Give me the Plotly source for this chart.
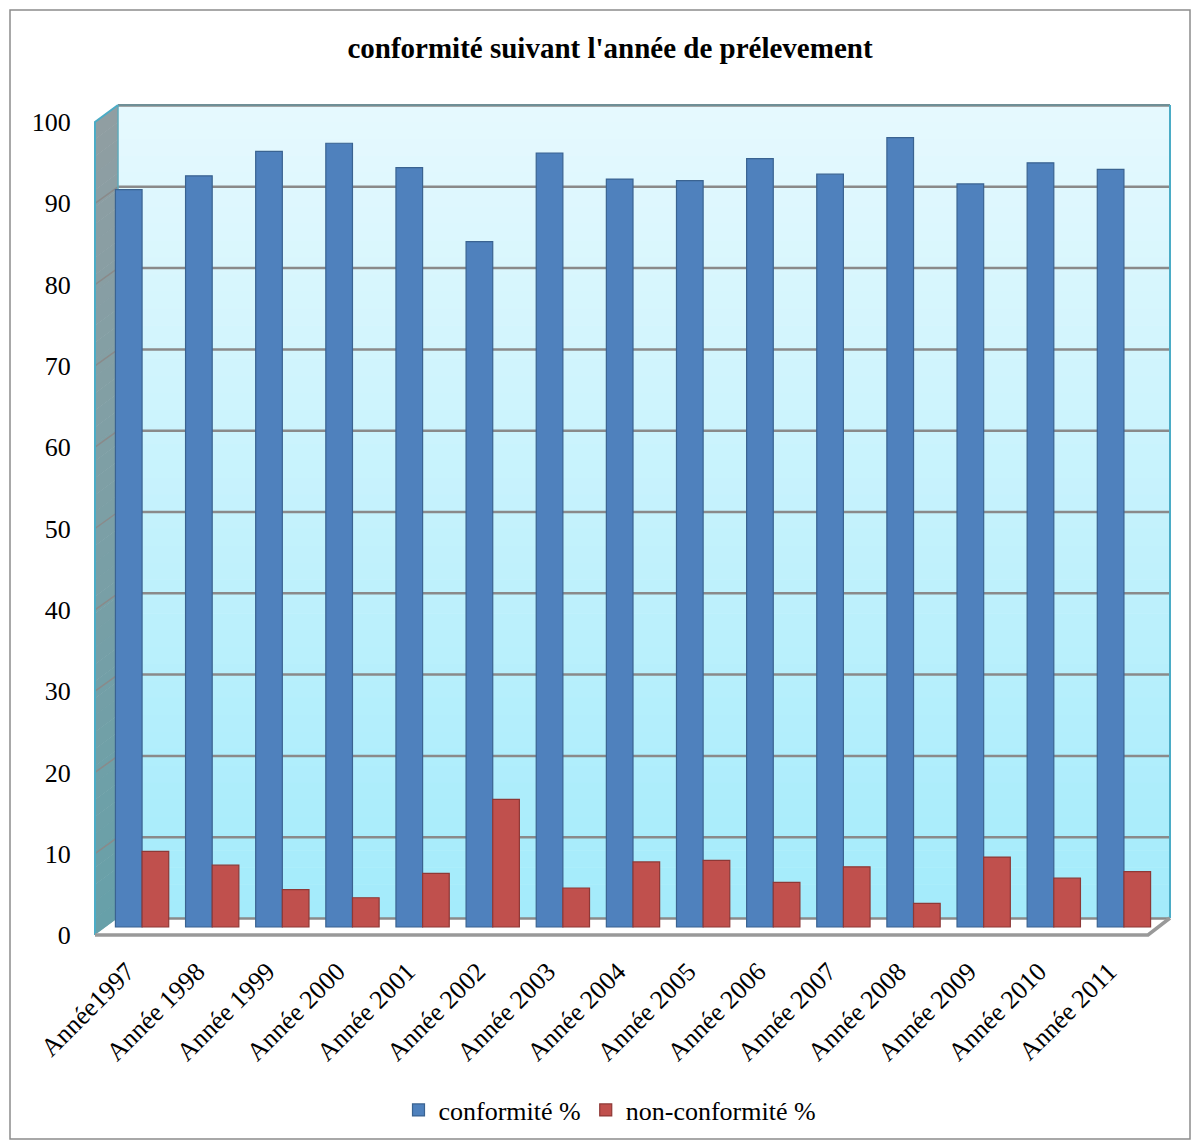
import plotly.graph_objects as go

# ---------------- data ----------------
categories = ["Année1997", "Année 1998", "Année 1999", "Année 2000", "Année 2001",
              "Année 2002", "Année 2003", "Année 2004", "Année 2005", "Année 2006",
              "Année 2007", "Année 2008", "Année 2009", "Année 2010", "Année 2011"]
conformite = [90.7, 92.4, 95.4, 96.4, 93.4, 84.3, 95.2, 92.0, 91.8, 94.5, 92.6, 97.1, 91.4, 94.0, 93.2]
non_conformite = [9.3, 7.6, 4.6, 3.6, 6.6, 15.7, 4.8, 8.0, 8.2, 5.5, 7.4, 2.9, 8.6, 6.0, 6.8]
y_ticks = [0, 10, 20, 30, 40, 50, 60, 70, 80, 90, 100]
title_text = "conformité suivant l'année de prélevement"
series_names = ["conformité %", "non-conformité %"]

# ---------------- geometry helpers ----------------
FW, FH = 1197, 1141
L, R, T, B = 107, 1159, 100, 940
W, H = R - L, B - T
S = 8.13  # px per unit


def px(x):
    return (x - L) / W


def py(y):
    return (B - y) / H


FONT = "Liberation Serif"
BLUE, BLUE_LINE = "#4F81BD", "#3A6391"
RED, RED_LINE = "#C0504D", "#8E3836"

fig = go.Figure()
fig.add_trace(go.Bar(x=categories, y=conformite, name=series_names[0],
                     marker=dict(color=BLUE, line=dict(color=BLUE_LINE, width=1.2))))
fig.add_trace(go.Bar(x=categories, y=non_conformite, name=series_names[1],
                     marker=dict(color=RED, line=dict(color=RED_LINE, width=1.2))))
# carrier for the front (label) axis
fig.add_trace(go.Scatter(x=categories, y=[0] * len(categories), yaxis="y3",
                         mode="lines", line=dict(width=0), showlegend=False,
                         hoverinfo="skip"))

shapes = []


def mix(c1, c2, t):
    a = [int(c1[i:i + 2], 16) for i in (1, 3, 5)]
    b = [int(c2[i:i + 2], 16) for i in (1, 3, 5)]
    return "#%02x%02x%02x" % tuple(round(a[k] + (b[k] - a[k]) * t) for k in range(3))


# outer border
shapes.append(dict(type="rect", xref="paper", yref="paper", x0=px(10), x1=px(1190),
                   y0=py(1139), y1=py(10), line=dict(color="#8c8c8c", width=1.5),
                   fillcolor="rgba(0,0,0,0)", layer="below"))

# back wall gradient
N = 48
top_y, bot_y = 105, 918
for i in range(N):
    y0 = top_y + (bot_y - top_y) * i / N
    y1 = top_y + (bot_y - top_y) * (i + 1) / N + 0.6
    c = mix("#E6F9FE", "#A3EBFB", (i + 0.5) / N)
    shapes.append(dict(type="rect", xref="paper", yref="paper", x0=px(118), x1=px(1170),
                       y0=py(y1), y1=py(y0), line=dict(width=0), fillcolor=c, layer="below"))

# left wall gradient
for i in range(N):
    ya = top_y + (bot_y - top_y) * i / N
    yb = top_y + (bot_y - top_y) * (i + 1) / N + 0.6
    c = mix("#909EA2", "#67A0A9", (i + 0.5) / N)
    path = "M %f,%f L %f,%f L %f,%f L %f,%f Z" % (
        px(95), py(ya + 17), px(118), py(ya), px(118), py(yb), px(95), py(yb + 17))
    shapes.append(dict(type="path", xref="paper", yref="paper", path=path,
                       line=dict(width=0), fillcolor=c, layer="below"))

# floor
floor = "M %f,%f L %f,%f L %f,%f L %f,%f Z" % (px(95), py(935), px(118), py(918),
                                             px(1170), py(918), px(1148), py(935))
shapes.append(dict(type="path", xref="paper", yref="paper", path=floor,
                   line=dict(width=0), fillcolor="#FFFFFF", layer="below"))

# gridlines (back wall + diagonal on left wall)
for v in y_ticks:
    shapes.append(dict(type="line", xref="paper", yref="y2", x0=px(118), x1=px(1170),
                       y0=v, y1=v, line=dict(color="#8A8A8A", width=2.5), layer="below"))
    if 0 < v < 100:
        shapes.append(dict(type="line", xref="paper", yref="y2", x0=px(95), x1=px(118),
                           y0=v - 16.5 / S, y1=v, line=dict(color="#8A8A8A", width=1.5),
                           layer="below"))

# wall edges
shapes.append(dict(type="line", xref="paper", yref="paper", x0=px(118), x1=px(1170),
                   y0=py(105), y1=py(105), line=dict(color="#6F8F96", width=2), layer="below"))
shapes.append(dict(type="line", xref="paper", yref="paper", x0=px(1170), x1=px(1170),
                   y0=py(105), y1=py(918), line=dict(color="#4BACC6", width=2), layer="below"))
shapes.append(dict(type="line", xref="paper", yref="paper", x0=px(118), x1=px(118),
                   y0=py(105), y1=py(918), line=dict(color="#5FA9B8", width=1.5), layer="below"))
shapes.append(dict(type="path", xref="paper", yref="paper",
                   path="M %f,%f L %f,%f L %f,%f" % (px(95), py(935), px(95), py(122), px(118), py(105)),
                   line=dict(color="#4BACC6", width=2), layer="below"))
# floor edges
shapes.append(dict(type="path", xref="paper", yref="paper",
                   path="M %f,%f L %f,%f L %f,%f" % (px(95), py(935), px(1148), py(935), px(1170), py(918)),
                   line=dict(color="#999999", width=3.5), layer="below"))

fig.update_layout(
    width=FW, height=FH,
    margin=dict(l=L, r=FW - R, t=T, b=FH - B, autoexpand=False),
    paper_bgcolor="white", plot_bgcolor="rgba(0,0,0,0)",
    barmode="group", bargap=0.24, bargroupgap=0.0,
    font=dict(family=FONT, color="black", size=24),
    title=dict(text=title_text, x=610 / FW, xanchor="center", y=1 - 48 / FH, yanchor="middle",
               font=dict(family=FONT, size=29, weight="bold", color="black")),
    xaxis=dict(type="category", range=[-0.5, len(categories) - 0.5], autorange=False,
               showgrid=False, zeroline=False, showline=False,
               tickangle=-45, ticks="", ticklabelshift=-15, ticklabelstandoff=10,
               tickfont=dict(family=FONT, size=26)),
    yaxis=dict(range=[-(B - 927) / S, (927 - T) / S], showgrid=False, zeroline=False,
               showticklabels=False, showline=False),
    yaxis2=dict(range=[-(B - 918.5) / S, (918.5 - T) / S], overlaying="y", showgrid=False,
                zeroline=False, showticklabels=False, showline=False),
    yaxis3=dict(range=[-(B - 935) / S, (935 - T) / S], overlaying="y", side="left",
                showgrid=False, zeroline=False, showline=False, tickvals=y_ticks,
                ticks="outside", ticklen=30, tickcolor="rgba(0,0,0,0)",
                tickfont=dict(family=FONT, size=26)),
    legend=dict(orientation="h", x=px(610), xanchor="center", y=py(1110), yanchor="middle",
                font=dict(family=FONT, size=26), bgcolor="rgba(0,0,0,0)", itemwidth=30),
    shapes=shapes,
    showlegend=True,
)

fig.write_html("out.html")
